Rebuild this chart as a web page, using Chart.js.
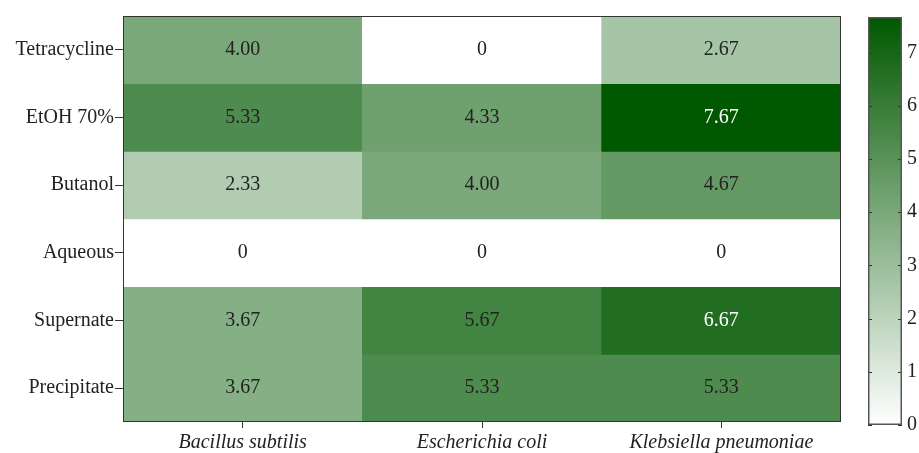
<!DOCTYPE html>
<html>
<head>
<meta charset="utf-8">
<title>Extract activity heatmap</title>
<script src="https://cdn.jsdelivr.net/npm/chart.js@4"></script>
<style>
  html, body { margin: 0; padding: 0; background: #fff; }
  #wrap { position: relative; width: 919px; height: 453px; }
  #heat { position: absolute; left: 0; top: 0; }
  #bar { position: absolute; left: 840px; top: 0; }
</style>
</head>
<body>
<div id="wrap">
  <canvas id="heat" width="850" height="453"></canvas>
  <canvas id="bar" width="79" height="453"></canvas>
</div>
<script>
// columns (bacteria) and rows (extracts)
const species = ['Bacillus subtilis', 'Escherichia coli', 'Klebsiella pneumoniae'];
const extracts = ['Tetracycline', 'EtOH 70%', 'Butanol', 'Aqueous', 'Supernate', 'Precipitate'];

// values per column, top row first
const bacillus = [4.00, 5.33, 2.33, 0, 3.67, 3.67];
const ecoli = [0, 4.33, 4.00, 0, 5.67, 5.33];
const klebsiella = [2.67, 7.67, 4.67, 0, 6.67, 5.33];

const colorbarTicks = [0, 1, 2, 3, 4, 5, 6, 7];
const vmin = 0;
const vmax = 7.67;

const columns = [bacillus, ecoli, klebsiella];
const FONT = "'Liberation Serif', 'DejaVu Serif', serif";
const TEXT = '#222';

// white -> dark green
const colorFor = (v) => {
  const t = Math.max(0, Math.min(1, (v - vmin) / (vmax - vmin)));
  const r = Math.round(255 * (1 - t));
  const g = Math.round(255 - (255 - 88) * t);
  const b = Math.round(255 * (1 - t));
  return `rgb(${r},${g},${b})`;
};

const frame = {
  id: 'frame',
  afterDatasetsDraw(chart) {
    const { ctx, chartArea: a } = chart;
    ctx.save();
    ctx.strokeStyle = '#333';
    ctx.lineWidth = 1;
    ctx.strokeRect(Math.round(a.left) + 0.5, Math.round(a.top) + 0.5,
      Math.round(a.right - a.left) - 1, Math.round(a.bottom - a.top) - 1);
    ctx.restore();
  }
};

const cellLabels = {
  id: 'cellLabels',
  afterDatasetsDraw(chart) {
    const { ctx } = chart;
    const xs = chart.scales.x, ys = chart.scales.y;
    ctx.save();
    ctx.font = `20px ${FONT}`;
    ctx.textAlign = 'center';
    ctx.textBaseline = 'middle';
    columns.forEach((col, c) => {
      col.forEach((v, r) => {
        ctx.fillStyle = v > 6 ? '#fff' : TEXT;
        const txt = v === 0 ? '0' : v.toFixed(2);
        ctx.fillText(txt, xs.getPixelForValue(c), ys.getPixelForValue(r + 0.5));
      });
    });
    ctx.restore();
  }
};

new Chart(document.getElementById('heat'), {
  type: 'bar',
  data: {
    labels: species,
    datasets: extracts.map((name, r) => ({
      label: name,
      data: species.map(() => [r, r + 1]),
      backgroundColor: columns.map(col => colorFor(col[r])),
      grouped: false,
      barPercentage: 1,
      categoryPercentage: 1,
      borderWidth: 0
    }))
  },
  options: {
    responsive: false,
    animation: false,
    layout: { padding: { left: 0, right: 9, top: 16, bottom: 0 } },
    plugins: { legend: { display: false }, tooltip: { enabled: false } },
    scales: {
      x: {
        grid: { offset: false, drawOnChartArea: false, tickLength: 6, color: '#333' },
        border: { display: false },
        ticks: { color: TEXT, padding: 3, font: { family: FONT, size: 20, style: 'italic' } },
        afterFit(axis) { axis.height = 31; }
      },
      y: {
        min: 0,
        max: extracts.length,
        reverse: true,
        grid: { drawOnChartArea: false, tickLength: 8, color: '#333' },
        border: { display: false },
        afterBuildTicks(axis) {
          axis.ticks = extracts.map((_, i) => ({ value: i + 0.5 }));
        },
        ticks: {
          color: TEXT,
          padding: 1,
          font: { family: FONT, size: 20 },
          callback: (v) => extracts[Math.floor(v)]
        },
        afterFit(axis) { axis.width = 123; }
      }
    }
  },
  plugins: [frame, cellLabels]
});

// colorbar
const innerTicks = {
  id: 'innerTicks',
  afterDatasetsDraw(chart) {
    const { ctx, chartArea: a } = chart;
    const ys = chart.scales.y;
    ctx.save();
    ctx.strokeStyle = '#333';
    ctx.lineWidth = 1;
    colorbarTicks.forEach(v => {
      const y = Math.round(ys.getPixelForValue(v)) + 0.5;
      ctx.beginPath();
      ctx.moveTo(a.left, y); ctx.lineTo(a.left + 4, y);
      ctx.moveTo(a.right - 4, y); ctx.lineTo(a.right, y);
      ctx.stroke();
    });
    ctx.strokeStyle = '#555';
    ctx.lineWidth = 1.5;
    ctx.strokeRect(Math.round(a.left) + 0.75, Math.round(a.top) + 0.75,
      Math.round(a.right - a.left) - 1.5, Math.round(a.bottom - a.top) - 1.5);
    ctx.restore();
  }
};

new Chart(document.getElementById('bar'), {
  type: 'bar',
  data: {
    labels: [''],
    datasets: [{
      data: [[vmin, vmax]],
      barPercentage: 1,
      categoryPercentage: 1,
      borderWidth: 0,
      backgroundColor: (context) => {
        const a = context.chart.chartArea;
        if (!a) return colorFor(vmax);
        const g = context.chart.ctx.createLinearGradient(0, a.bottom, 0, a.top);
        g.addColorStop(0, colorFor(vmin));
        g.addColorStop(1, colorFor(vmax));
        return g;
      }
    }]
  },
  options: {
    responsive: false,
    animation: false,
    layout: { padding: { left: 28, right: 0, top: 15, bottom: 28 } },
    plugins: { legend: { display: false }, tooltip: { enabled: false } },
    scales: {
      x: { display: false },
      y: {
        position: 'right',
        min: vmin,
        max: vmax,
        grid: { drawOnChartArea: false, drawTicks: false },
        border: { display: false },
        afterBuildTicks(axis) {
          axis.ticks = colorbarTicks.map(v => ({ value: v }));
        },
        ticks: { color: TEXT, padding: 5, font: { family: FONT, size: 20 } },
        afterFit(axis) { axis.width = 17; }
      }
    }
  },
  plugins: [innerTicks]
});
</script>
</body>
</html>
